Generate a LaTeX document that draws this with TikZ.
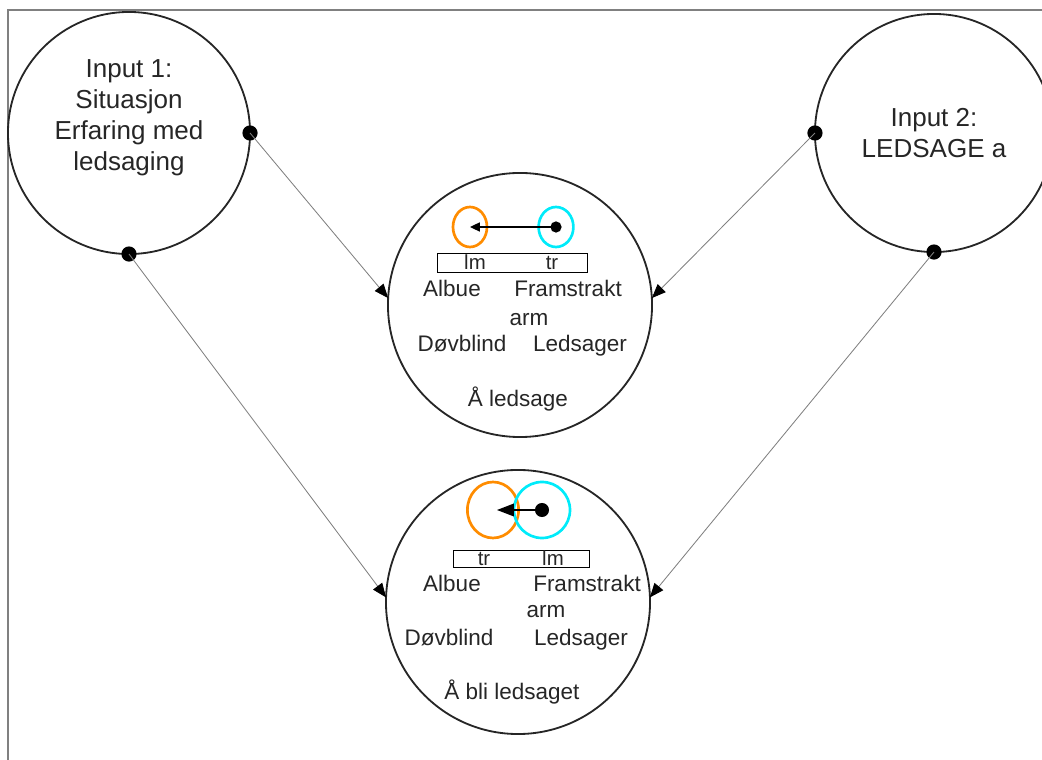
\documentclass[tikz,border=0pt]{standalone}
\usepackage{fontspec}
\setmainfont{Liberation Sans}
\usetikzlibrary{arrows.meta,shapes.geometric}

\definecolor{ringorange}{RGB}{255,140,0}
\definecolor{ringcyan}{RGB}{0,235,250}

\begin{document}
\begin{tikzpicture}[x=0.025cm,y=-0.025cm,
  ring/.style={circle,draw=black!85,line width=1.3pt,inner sep=0pt,outer sep=0pt},
  side/.style={ellipse,draw,line width=1.9pt,inner sep=0pt,outer sep=0pt},
  big/.style={align=center,text=black!85,font=\fontsize{18.5}{22}\selectfont},
  lbl/.style={anchor=base,text=black!85,font=\fontsize{16}{19}\selectfont},
  tag/.style={anchor=base,text=black!85,font=\fontsize{14.5}{16}\selectfont},
  link/.style={draw=gray,line width=0.6pt,-{Triangle[length=10pt,width=8pt,color=black]}}]
\clip (0,0) rectangle (1042,760);
\draw[gray,line width=1.4pt] (8,760) -- (8,10) -- (1042,10);

% inputs
\node[ring,minimum size=6.05cm] (in1) at (129,133) {};
\node[big] (in1txt) at (129,118) {Input 1:\\Situasjon\\Erfaring med\\ledsaging};
\node[ring,minimum size=5.95cm] (in2) at (934,133) {};
\node[big] (in2txt) at (934,133) {Input 2:\\LEDSAGE a};

% outcomes
\node[ring,minimum size=6.6cm] (mid) at (520,305) {};
\node[ring,minimum size=6.6cm] (low) at (518,602) {};

% connectors
\fill (in1.east) circle (5.4pt);
\fill (in1.south) circle (5.4pt);
\fill (in2.west) circle (5.4pt);
\fill (in2.south) circle (5.4pt);
\draw[link] (in1.east) -- (mid.177);
\draw[link] (in1.south) -- (low.178);
\draw[link] (in2.west) -- (mid.3);
\draw[link] (in2.south) -- (low.2);

% A ledsage
\node[side,draw=ringorange,minimum width=0.85cm,minimum height=1cm] (or1) at (470,227) {};
\node[side,draw=ringcyan,minimum width=0.87cm,minimum height=1cm] (cy1) at (556,227) {};
\fill (cy1.center) circle (4pt);
\draw[line width=0.9pt,-{Triangle[length=7pt,width=6.5pt]}] (cy1.center) -- (or1.center);
\draw[line width=0.7pt] (437,253) rectangle (587,272);
\node[tag] (lm1) at (475,270) {lm};
\node[tag] (tr1) at (552,270) {tr};
\node[lbl] (alb1) at (452,297) {Albue};
\node[lbl] (fra1) at (568,297) {Framstrakt};
\node[lbl] (arm1) at (529,326) {arm};
\node[lbl] (dov1) at (462,352) {Døvblind};
\node[lbl] (led1) at (580,352) {Ledsager};
\node[lbl] (cap1) at (518,407) {Å ledsage};

% A bli ledsaget
\node[side,draw=ringorange,minimum width=1.28cm,minimum height=1.4cm] (or2) at (493,510) {};
\node[side,draw=ringcyan,minimum width=1.4cm,minimum height=1.4cm] (cy2) at (542,510) {};
\fill (cy2.center) circle (5pt);
\draw[line width=0.9pt,-{Triangle[length=12pt,width=9pt]}] (cy2.center) -- (497,510);
\draw[line width=0.7pt] (453,550) rectangle (589,567);
\node[tag] (tr2) at (484,566) {tr};
\node[tag] (lm2) at (553,566) {lm};
\node[lbl] (alb2) at (452,592) {Albue};
\node[lbl] (fra2) at (587,592) {Framstrakt};
\node[lbl] (arm2) at (546,618) {arm};
\node[lbl] (dov2) at (449,646) {Døvblind};
\node[lbl] (led2) at (581,646) {Ledsager};
\node[lbl] (cap2) at (512,700) {Å bli ledsaget};
\end{tikzpicture}
\end{document}
